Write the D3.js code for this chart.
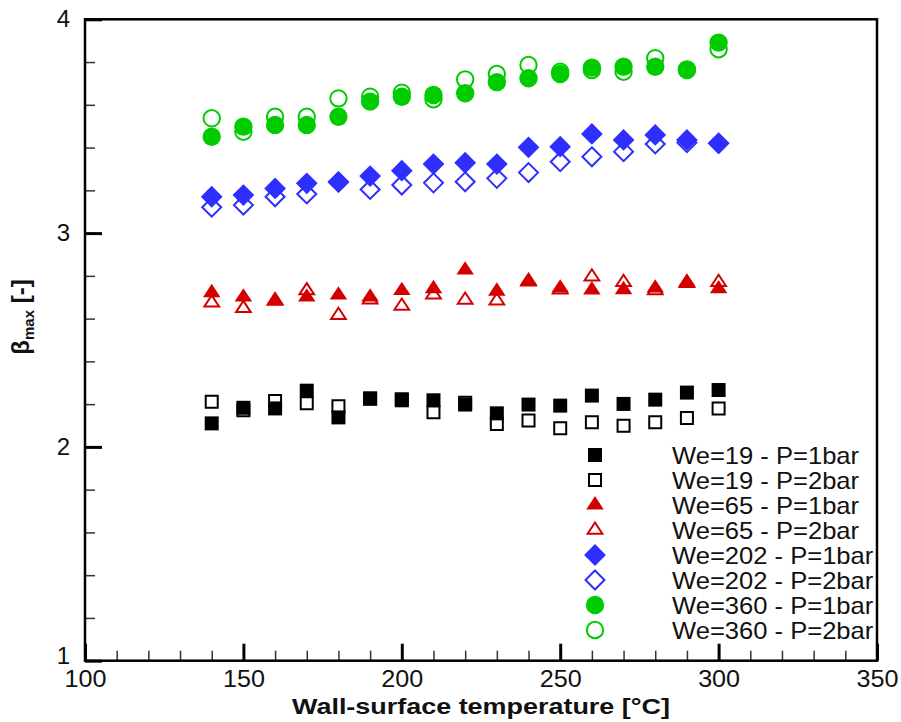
<!DOCTYPE html>
<html><head><meta charset="utf-8">
<script src="https://cdn.jsdelivr.net/npm/d3@7"></script>
<style>body{margin:0;background:#fff}svg{display:block}text{font-family:"Liberation Sans",Arial,sans-serif}</style>
</head><body>
<svg id="c" width="901" height="722"></svg>
<script>
const temps = [140,150,160,170,180,190,200,210,220,230,240,250,260,270,280,290,300];
const we19p1  = [2.11,2.183,2.18,2.263,2.138,2.227,2.218,2.218,2.198,2.157,2.198,2.193,2.24,2.201,2.221,2.254,2.266];
const we19p2  = [2.211,2.171,2.215,2.204,2.19,2.225,2.223,2.162,2.207,2.107,2.123,2.087,2.115,2.099,2.115,2.135,2.18];
const we65p1  = [2.721,2.701,2.686,2.701,2.71,2.701,2.731,2.74,2.827,2.728,2.777,2.743,2.734,2.735,2.743,2.771,2.739];
const we65p2  = [2.674,2.648,2.682,2.731,2.616,2.688,2.659,2.712,2.687,2.684,2.772,2.735,2.796,2.77,2.731,2.765,2.77];
const we202p1 = [3.17,3.178,3.209,3.233,3.24,3.267,3.292,3.323,3.329,3.323,3.401,3.404,3.464,3.436,3.459,3.436,3.42];
const we202p2 = [3.121,3.131,3.17,3.183,3.238,3.204,3.225,3.235,3.24,3.256,3.283,3.334,3.357,3.381,3.417,3.423,3.42];
const we360p1 = [3.451,3.498,3.506,3.506,3.544,3.615,3.638,3.646,3.654,3.706,3.724,3.744,3.774,3.778,3.778,3.763,3.891];
const we360p2 = [3.537,3.474,3.544,3.544,3.63,3.638,3.657,3.626,3.719,3.744,3.786,3.755,3.763,3.755,3.818,3.766,3.86];
const legendLabels = ["We=19 - P=1bar","We=19 - P=2bar","We=65 - P=1bar","We=65 - P=2bar","We=202 - P=1bar","We=202 - P=2bar","We=360 - P=1bar","We=360 - P=2bar"];
const xTicks = [100,150,200,250,300,350];
const yTicks = [1,2,3,4];
const xTitle = "Wall-surface temperature [°C]";

const BLACK="#000000", RED="#d40000", BLUE="#2e2eff", GREEN="#00cc00";
const series = [
  {vals:we19p1, shape:"square", filled:true, color:BLACK},
  {vals:we19p2, shape:"square", filled:false, color:BLACK},
  {vals:we65p1, shape:"triangle", filled:true, color:RED},
  {vals:we65p2, shape:"triangle", filled:false, color:RED},
  {vals:we202p1, shape:"diamond", filled:true, color:BLUE},
  {vals:we202p2, shape:"diamond", filled:false, color:BLUE},
  {vals:we360p1, shape:"circle", filled:true, color:GREEN},
  {vals:we360p2, shape:"circle", filled:false, color:GREEN}
];

const svg = d3.select("#c");
const L=85, R=877, T=19.3, B=660.7;
const x = d3.scaleLinear().domain([100,350]).range([L,R]);
const y = d3.scaleLinear().domain([1,4]).range([B,T]);

function stretch(sel, k){
  sel.each(function(){ const w=this.getComputedTextLength(); d3.select(this).attr("textLength", w*k).attr("lengthAdjust","spacingAndGlyphs"); });
}

function symPath(shape, filled){
  const sw = filled?0:2;
  if(shape==="square"){ const s=14-sw; return d3.symbol(d3.symbolSquare, s*s)(); }
  if(shape==="triangle"){ const w=17.5-sw*1.4; return d3.symbol(d3.symbolTriangle, Math.sqrt(3)/4*w*w)(); }
  if(shape==="diamond"){ const s=15.4-sw; return d3.symbol(d3.symbolSquare, s*s)(); }
  const r=9.2-sw/2; return d3.symbol(d3.symbolCircle, Math.PI*r*r)();
}
function drawMarker(g, shape, filled, color, cx, cy){
  let tf = `translate(${cx},${cy})`;
  if(shape==="diamond") tf += " rotate(45)";
  if(shape==="triangle") tf += " scale(1,0.88)";
  g.append("path").attr("d", symPath(shape, filled))
    .attr("transform", tf)
    .attr("fill", filled?color:"none")
    .attr("stroke", filled?"none":color)
    .attr("stroke-width", filled?0:2)
    .attr("vector-effect","non-scaling-stroke");
}

// axes: minor ticks
const minorX = d3.range(100,351,10).filter(v=>v%50!==0);
const minorY = d3.range(1,4.001,0.2).map(v=>+v.toFixed(1)).filter(v=>Math.abs(v-Math.round(v))>1e-6);

const gx = svg.append("g").attr("transform",`translate(0,${B})`);
gx.call(d3.axisBottom(x).tickValues(minorX).tickSize(-10).tickFormat(""))
  .call(g=>g.select(".domain").remove())
  .call(g=>g.selectAll("line").attr("stroke","#333").attr("stroke-width",1.5));
const gx2 = svg.append("g").attr("transform",`translate(0,${B})`);
gx2.call(d3.axisBottom(x).tickValues(xTicks).tickSize(-17).tickPadding(10).tickFormat(d3.format("d")))
  .call(g=>g.select(".domain").remove())
  .call(g=>g.selectAll("line").attr("stroke","#000").attr("stroke-width",3))
  .call(g=>g.selectAll("text").attr("font-size",23.5).attr("fill","#111").style("font-family","Liberation Sans, Arial"));
stretch(gx2.selectAll("text"), 1.07);

const gy = svg.append("g").attr("transform",`translate(${L},0)`);
gy.call(d3.axisLeft(y).tickValues(minorY).tickSize(-10).tickFormat(""))
  .call(g=>g.select(".domain").remove())
  .call(g=>g.selectAll("line").attr("stroke","#333").attr("stroke-width",1.5));
const gy2 = svg.append("g").attr("transform",`translate(${L},0)`);
gy2.call(d3.axisLeft(y).tickValues(yTicks).tickSize(-17).tickPadding(15).tickFormat(d3.format("d")))
  .call(g=>g.select(".domain").remove())
  .call(g=>g.selectAll("line").attr("stroke","#000").attr("stroke-width",3))
  .call(g=>g.selectAll("text").attr("font-size",24).attr("fill","#111").style("font-family","Liberation Sans, Arial"));
gy2.selectAll(".tick").filter(d=>d===1).select("text").attr("dy","0.1em");

// frame
svg.append("rect").attr("x",L).attr("y",T).attr("width",R-L).attr("height",B-T)
  .attr("fill","none").attr("stroke","#000").attr("stroke-width",2.5);

// data: draw open (2bar) before filled (1bar) within each group
const plot = svg.append("g");
[1,0,3,2,5,4,7,6].forEach(i=>{
  const s=series[i];
  s.vals.forEach((v,j)=>drawMarker(plot, s.shape, s.filled, s.color, x(temps[j]), y(v)));
});

// legend
const lg = svg.append("g");
legendLabels.forEach((lab,i)=>{
  const cy = 455 + i*25;
  const s = series[i];
  drawMarker(lg, s.shape, s.filled, s.color, 595, cy);
  lg.append("text").attr("x",672).attr("y",cy+8.5).attr("font-size",24).attr("fill","#111").text(lab);
});
stretch(lg.selectAll("text"), 1.065);

// axis titles
svg.append("text").attr("x",(L+R)/2).attr("y",714).attr("text-anchor","middle")
  .attr("font-size",22).attr("font-weight","bold").attr("fill","#111")
  .attr("textLength",378).attr("lengthAdjust","spacingAndGlyphs").text(xTitle);
const yt = svg.append("text").attr("transform","translate(29,317) rotate(-90)")
  .attr("text-anchor","middle").attr("font-weight","bold").attr("fill","#111").attr("font-size",24);
yt.append("tspan").text("β");
yt.append("tspan").attr("font-size",15).attr("dy",5).text("max");
yt.append("tspan").attr("dy",-5).text(" [-]");
</script>
</body></html>
